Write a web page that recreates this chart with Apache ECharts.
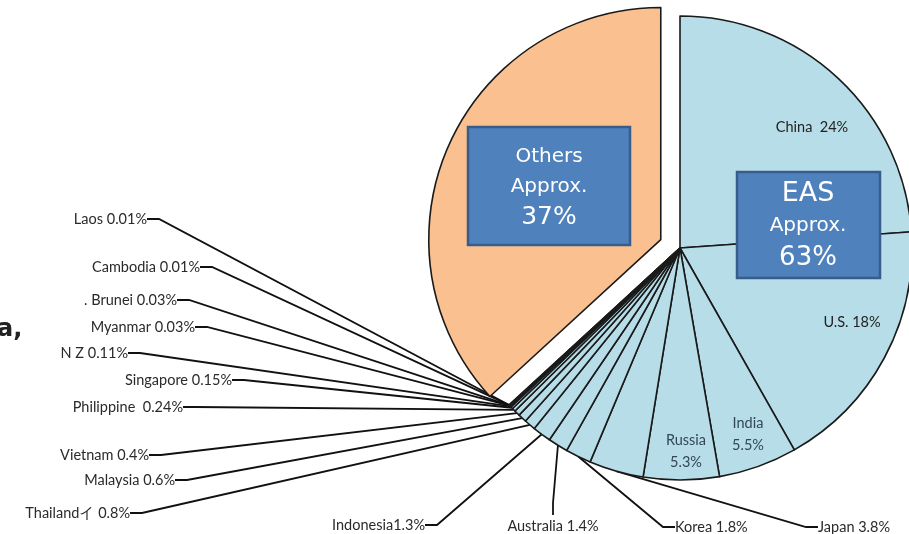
<!DOCTYPE html>
<html>
<head>
<meta charset="utf-8">
<script src="https://cdn.jsdelivr.net/npm/echarts@6/dist/echarts.min.js"></script>
<style>
  html, body { margin: 0; padding: 0; background: #fff; }
  #chart { width: 909px; height: 534px; }
</style>
</head>
<body>
<div id="chart"></div>
<script>
// shares of the total (%), clockwise from 12 o'clock
const countries = ['China', 'U.S.', 'India', 'Russia', 'Japan', 'Korea', 'Australia', 'Indonesia', 'Thailand',
  'Malaysia', 'Vietnam', 'Philippine', 'Singapore', 'N Z', 'Myanmar', 'Brunei', 'Cambodia', 'Laos']
const shares = [24, 18, 5.5, 5.3, 3.8, 1.8, 1.4, 1.3, 0.8, 0.6, 0.4, 0.24, 0.15, 0.11, 0.03, 0.03, 0.01, 0.01]
const labelTexts = ['China  24%', 'U.S. 18%', 'India\n5.5%', 'Russia\n5.3%', 'Japan 3.8%', 'Korea 1.8%',
  'Australia 1.4%', 'Indonesia1.3%', 'Thailandイ 0.8%', 'Malaysia 0.6%', 'Vietnam 0.4%', 'Philippine  0.24%',
  'Singapore 0.15%', 'N Z 0.11%', 'Myanmar 0.03%', '. Brunei 0.03%', 'Cambodia 0.01%', 'Laos 0.01%']
const othersName = 'Others'
const othersShare = 37

// where each label sits: [x, y, align]
const labelPos = [
  [812, 127, 'center'], [852, 322, 'center'], [748, 434, 'center'], [686, 451, 'center'],
  [818, 527, 'left'], [675, 527, 'left'], [553, 526, 'center'], [425, 525, 'right'],
  [130, 513, 'right'], [175, 480, 'right'], [149, 455, 'right'], [183, 407, 'right'],
  [232, 380, 'right'], [128, 353, 'right'], [195, 327, 'right'], [177, 300, 'right'],
  [200, 267, 'right'], [147, 219, 'right']
]
const insideCount = 4

const easTotal = shares.reduce((a, b) => a + b, 0)

const data = countries.map((name, i) => ({
  name,
  value: shares[i],
  itemStyle: { color: '#b7dde8' },
  label: { formatter: labelTexts[i], color: i < insideCount ? (i < 2 ? '#222' : '#33465c') : '#2a2a2a' },
  labelLine: { show: i >= insideCount }
}))
data.push({
  name: othersName,
  value: othersShare,
  selected: true,
  itemStyle: { color: '#fac090' },
  label: { show: false },
  labelLine: { show: false }
})

const boxFont = 'DejaVu Sans'

const chart = echarts.init(document.getElementById('chart'))
chart.setOption({
  animation: false,
  series: [{
    type: 'pie',
    center: [680, 248],
    radius: 232,
    startAngle: 90,
    clockwise: true,
    selectedMode: 'single',
    selectedOffset: 21,
    avoidLabelOverlap: false,
    emphasis: { disabled: true },
    itemStyle: { borderColor: '#1a1a1a', borderWidth: 1.6 },
    label: { show: true, position: 'outside', fontFamily: 'Lato', fontSize: 14.5, lineHeight: 22, color: '#2a2a2a' },
    labelLine: { show: true, length: 10, length2: 12, smooth: false, lineStyle: { color: '#111', width: 1.8 } },
    labelLayout: p => {
      const pos = labelPos[p.dataIndex]
      if (!pos) return {}
      return { x: pos[0], y: pos[1], align: pos[2], verticalAlign: 'middle' }
    },
    data
  }],
  graphic: [
    { type: 'text', left: -3, top: 318, z: 100, style: { text: 'a,', font: 'bold 24px "DejaVu Sans"', fill: '#222' } },
    { type: 'rect', z: 100, shape: { x: 468, y: 127, width: 162, height: 118 }, style: { fill: '#4f81bd', stroke: '#385d8a', lineWidth: 2.5 } },
    {
      type: 'text', x: 549, y: 187, z: 101,
      style: {
        text: '{a|' + othersName + '}\n{a|Approx.}\n{b|' + othersShare + '%}',
        align: 'center', verticalAlign: 'middle', fill: '#fff',
        rich: {
          a: { fontFamily: boxFont, fontSize: 20, lineHeight: 30, fill: '#fff', align: 'center' },
          b: { fontFamily: boxFont, fontSize: 25, lineHeight: 30, fill: '#fff', align: 'center' }
        }
      }
    },
    { type: 'rect', z: 100, shape: { x: 737, y: 172, width: 143, height: 106 }, style: { fill: '#4f81bd', stroke: '#385d8a', lineWidth: 2.5 } },
    {
      type: 'text', x: 808, y: 226, z: 101,
      style: {
        text: '{b|EAS}\n{a|Approx.}\n{c|' + Math.round(easTotal) + '%}',
        align: 'center', verticalAlign: 'middle', fill: '#fff',
        rich: {
          a: { fontFamily: boxFont, fontSize: 20, lineHeight: 32, fill: '#fff', align: 'center' },
          b: { fontFamily: boxFont, fontSize: 27, lineHeight: 32, fill: '#fff', align: 'center' },
          c: { fontFamily: boxFont, fontSize: 26, lineHeight: 32, fill: '#fff', align: 'center' }
        }
      }
    }
  ]
})
</script>
</body>
</html>
